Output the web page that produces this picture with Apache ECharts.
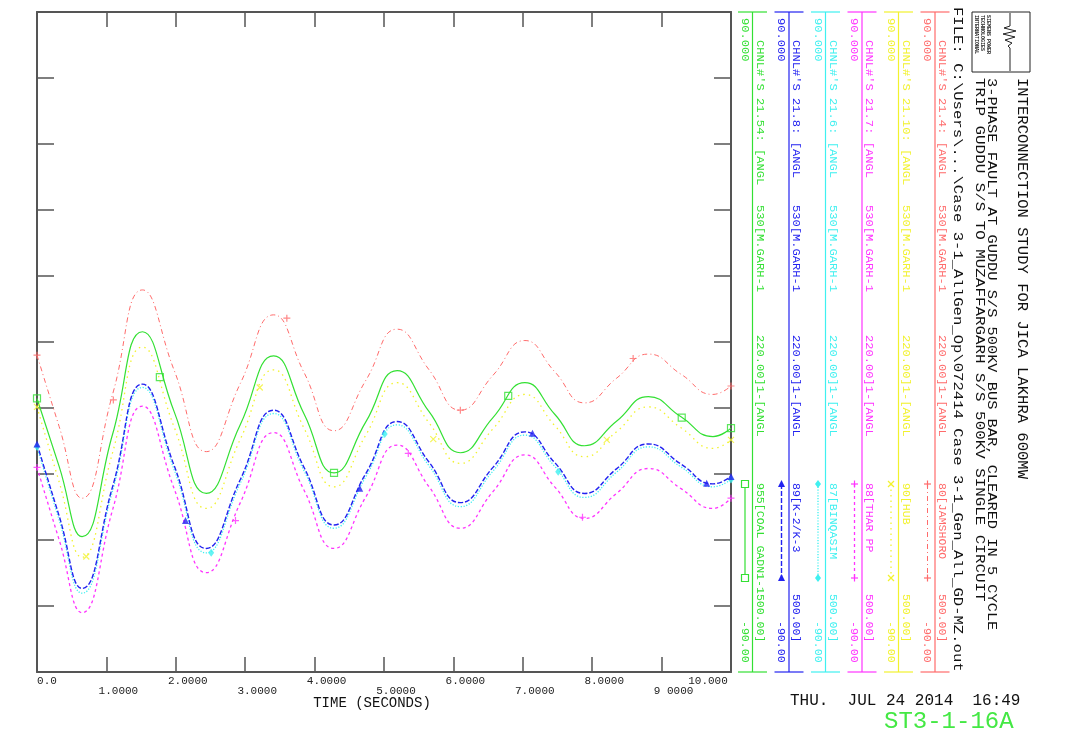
<!DOCTYPE html>
<html>
<head>
<meta charset="utf-8">
<script src="https://cdn.jsdelivr.net/npm/echarts@6/dist/echarts.min.js"></script>
<style>
html,body{margin:0;padding:0;background:#fff;}
#chart{width:1067px;height:751px;}
</style>
</head>
<body>
<div id="chart"></div>
<script>
// ---------------- DATA ----------------
const timeSec = [0, 0.32, 0.65, 1.09, 1.52, 1.98, 2.44, 2.93, 3.41, 3.85, 4.28, 4.74, 5.19, 5.65, 6.10, 6.57, 7.03, 7.46, 7.89, 8.35, 8.81, 9.28, 9.74, 10.0];

const angRed     = [-3.6, -23.1, -42.6, -14.2, 14.2, -7.9, -29.9, -11.3, 7.4, -8.4, -24.2, -10.4, 3.5, -7.6, -18.6, -9.1, 0.4, -8.1, -16.6, -9.9, -3.3, -8.8, -14.3, -12.0];
const angYellow  = [-17.7, -38.2, -58.7, -30.1, -1.4, -23.4, -45.4, -26.5, -7.6, -23.6, -39.5, -25.3, -11.1, -22.1, -33.1, -23.7, -14.3, -22.8, -31.3, -24.5, -17.7, -23.4, -29.0, -26.7];
const angMagenta = [-34.2, -54.0, -73.8, -45.7, -17.5, -40.2, -62.9, -43.8, -24.7, -40.5, -56.3, -42.2, -28.1, -39.5, -50.8, -40.8, -30.8, -39.5, -48.1, -41.3, -34.5, -40.0, -45.4, -42.6];
const angCyan    = [-28.6, -48.6, -68.5, -40.5, -12.4, -35.0, -57.5, -38.5, -19.5, -35.2, -50.8, -36.7, -22.6, -33.8, -44.9, -35.2, -25.4, -33.9, -42.4, -35.5, -28.6, -34.1, -39.5, -37.5];
const angBlue    = [-27.8, -47.5, -67.2, -39.4, -11.5, -33.9, -56.3, -37.5, -18.6, -34.3, -49.9, -35.8, -21.7, -32.8, -43.8, -34.2, -24.5, -32.9, -41.3, -34.6, -27.8, -33.3, -38.7, -36.7];
const angGreen   = [-15.4, -34.0, -53.1, -25.1, 2.8, -19.2, -41.3, -22.5, -3.8, -19.7, -35.7, -21.7, -7.8, -19.0, -30.2, -20.6, -11.1, -19.7, -28.3, -21.6, -14.9, -20.4, -25.8, -23.5];

// marker positions along the curves [time, value]
const markRed     = [[0, -3.6], [1.10, -15.8], [3.60, 6.5], [6.10, -18.6], [8.59, -4.5], [10, -12.0]];
const markYellow  = [[0, -17.7], [0.71, -58.5], [3.21, -12.4], [5.71, -26.5], [8.21, -26.7], [10, -26.7]];
const markMagenta = [[0, -34.2], [2.86, -48.7], [5.35, -30.4], [7.86, -47.8], [10, -42.6]];
const markCyan    = [[0, -28.6], [2.51, -57.5], [5.01, -25.1], [7.51, -35.4], [10, -37.5]];
const markBlue    = [[0, -27.8], [2.14, -48.7], [4.65, -39.9], [7.14, -24.9], [9.65, -38.5], [10, -36.7]];
const markGreen   = [[0, -15.4], [1.77, -9.6], [4.28, -35.7], [6.79, -14.7], [9.29, -20.6], [10, -23.5]];

const xTickLabels = ['0.0', '1.0000', '2.0000', '3.0000', '4.0000', '5.0000', '6.0000', '7.0000', '8.0000', '9 0000', '10.000'];
const yMaxLabel = '90.000';
const yMinLabel = '-90.00';

const chnlIds = ["CHNL#'S 21.4: [ANGL", "CHNL#'S 21.10: [ANGL", "CHNL#'S 21.7: [ANGL", "CHNL#'S 21.6: [ANGL", "CHNL#'S 21.8: [ANGL", "CHNL#'S 21.54: [ANGL"];
const chnlFrom = '530[M.GARH-1';
const chnlMid = '220.00]1-[ANGL';
const chnlTo = ['80[JAMSHORO     500.00]', '90[HUB          500.00]', '88[THAR PP      500.00]', '87[BINQASIM     500.00]', '89[K-2/K-3      500.00]', '955[COAL GADN1-1500.00]'];

const titleMain = 'INTERCONNECTION STUDY FOR JICA LAKHRA 600MW';
const titleSub1 = '3-PHASE FAULT AT GUDDU S/S 500KV BUS BAR, CLEARED IN 5 CYCLE';
const titleSub2 = 'TRIP GUDDU S/S TO MUZAFFARGARH S/S 500KV SINGLE CIRCUIT';
const fileLine = 'FILE: C:\\Users\\...\\Case 3-1_AllGen_Op\\072414 Case 3-1_Gen_All_GD-MZ.out';
const dateLine = 'THU.  JUL 24 2014  16:49';
const plotId = 'ST3-1-16A';
const xAxisTitle = 'TIME (SECONDS)';
const logoLines = ['SIEMENS POWER', 'TECHNOLOGIES', 'INTERNATIONAL'];

// ---------------- STYLES ----------------
const MONO = '"Liberation Mono", "DejaVu Sans Mono", monospace';
const channels = [
  {data: angRed,     marks: markRed,     color: '#ff6b6b', dash: [5, 3, 1, 3], width: 1,   sym: 'plus'},
  {data: angYellow,  marks: markYellow,  color: '#f2f22e', dash: [1.5, 4],     width: 1.3, sym: 'x'},
  {data: angMagenta, marks: markMagenta, color: '#ff33ff', dash: [3, 3],       width: 1.3, sym: 'plus'},
  {data: angCyan,    marks: markCyan,    color: '#3ff0f0', dash: [1.2, 1.6],   width: 1.3, sym: 'diamond'},
  {data: angBlue,    marks: markBlue,    color: '#2222f0', dash: [5, 2],       width: 1.4, sym: 'triangle'},
  {data: angGreen,   marks: markGreen,   color: '#33e033', dash: 'solid',      width: 1.2, sym: 'square'}
];
const colLineX = [935, 898.5, 862, 825.5, 789, 752.5];

const GRID = {left: 37, top: 12, width: 694, height: 660};

function symbolSpec(kind, color) {
  switch (kind) {
    case 'square': return {symbol: 'rect', symbolSize: 7, itemStyle: {color: 'rgba(0,0,0,0)', borderColor: color, borderWidth: 1.2}};
    case 'triangle': return {symbol: 'triangle', symbolSize: 7, itemStyle: {color: color}};
    case 'diamond': return {symbol: 'diamond', symbolSize: [6, 8], itemStyle: {color: color}};
    case 'x': return {symbol: 'path://M0,0L10,10M10,0L0,10', symbolSize: 6, itemStyle: {color: 'none', borderColor: color, borderWidth: 1.2}};
    default: return {symbol: 'path://M5,0L5,10M0,5L10,5', symbolSize: 7, itemStyle: {color: 'none', borderColor: color, borderWidth: 1.2}};
  }
}

// rotated (top-to-bottom) text; stretch = scale along the reading direction
function vtext(x, y, str, color, size, stretch, fontOverride) {
  const font = fontOverride || (size + 'px ' + MONO);
  return {type: 'text', x: x, y: y, rotation: -Math.PI / 2, scaleX: stretch || 1, scaleY: 1, z: 10,
    style: {text: str, fill: color, font: font, textAlign: 'left', textVerticalAlign: 'middle', align: 'left', verticalAlign: 'middle'}};
}
function hline(x1, x2, y, color, w) {
  return {type: 'line', z: 5, shape: {x1: x1, y1: y, x2: x2, y2: y}, style: {stroke: color, lineWidth: w || 1}};
}
function vline(x, y1, y2, color, w, dash) {
  return {type: 'line', z: 5, shape: {x1: x, y1: y1, x2: x, y2: y2}, style: {stroke: color, lineWidth: w || 1, lineDash: dash && dash !== 'solid' ? dash : null}};
}
function legendSymbol(kind, cx, cy, color) {
  if (kind === 'square') return [{type: 'rect', z: 6, shape: {x: cx - 3.5, y: cy - 3.5, width: 7, height: 7}, style: {fill: '#fff', stroke: color, lineWidth: 1.2}}];
  if (kind === 'triangle') return [{type: 'polygon', z: 6, shape: {points: [[cx, cy - 4], [cx - 3.5, cy + 3], [cx + 3.5, cy + 3]]}, style: {fill: color}}];
  if (kind === 'diamond') return [{type: 'polygon', z: 6, shape: {points: [[cx, cy - 4], [cx + 3, cy], [cx, cy + 4], [cx - 3, cy]]}, style: {fill: color}}];
  if (kind === 'x') return [
    {type: 'line', z: 6, shape: {x1: cx - 3, y1: cy - 3, x2: cx + 3, y2: cy + 3}, style: {stroke: color, lineWidth: 1.2}},
    {type: 'line', z: 6, shape: {x1: cx + 3, y1: cy - 3, x2: cx - 3, y2: cy + 3}, style: {stroke: color, lineWidth: 1.2}}];
  return [
    {type: 'line', z: 6, shape: {x1: cx - 3.5, y1: cy, x2: cx + 3.5, y2: cy}, style: {stroke: color, lineWidth: 1.2}},
    {type: 'line', z: 6, shape: {x1: cx, y1: cy - 3.5, x2: cx, y2: cy + 3.5}, style: {stroke: color, lineWidth: 1.2}}];
}

// ---------------- GRAPHIC (right-hand annotation panel) ----------------
const graphics = [];
channels.forEach(function (c, i) {
  const lx = colLineX[i];
  graphics.push(vline(lx, 12, 672, c.color, 1.2));
  graphics.push(hline(lx - 14.5, lx + 14.5, 12, c.color, 1.2));
  graphics.push(hline(lx - 14.5, lx + 14.5, 672, c.color, 1.2));
  graphics.push(vtext(lx - 8, 18, yMaxLabel, c.color, 11, 1.1));
  graphics.push(vtext(lx - 8, 621, yMinLabel, c.color, 11, 1.05));
  graphics.push(vtext(lx + 7, 40, chnlIds[i], c.color, 11, 1.1));
  graphics.push(vtext(lx + 7, 205, chnlFrom, c.color, 11, 1.1));
  graphics.push(vtext(lx + 7, 335, chnlMid, c.color, 11, 1.1));
  graphics.push(vtext(lx + 7, 483, chnlTo[i], c.color, 11, 1.05));
  graphics.push(vline(lx - 7.5, 484, 578, c.color, c.width, c.dash));
  legendSymbol(c.sym, lx - 7.5, 484, c.color).forEach(function (g) { graphics.push(g); });
  legendSymbol(c.sym, lx - 7.5, 578, c.color).forEach(function (g) { graphics.push(g); });
});
// header texts
graphics.push(vtext(957.5, 7, fileLine, '#111', 13, 1.2));
graphics.push(vtext(979.5, 78, titleSub2, '#111', 13, 1.22));
graphics.push(vtext(991.5, 78, titleSub1, '#111', 13, 1.18));
graphics.push(vtext(1022, 78, titleMain, '#111', 14, 1.11));
// logo box
graphics.push({type: 'rect', z: 5, shape: {x: 972, y: 12, width: 58, height: 60}, style: {fill: 'none', stroke: '#222', lineWidth: 1}});
graphics.push({type: 'polyline', z: 6, shape: {points: [[1010, 13], [1010, 26], [1004, 28], [1016, 31], [1003, 34], [1015, 37], [1005, 40], [1012, 43], [1008, 46], [1010, 48], [1010, 71]]}, style: {stroke: '#222', lineWidth: 1, fill: 'none'}});
logoLines.forEach(function (s, k) {
  graphics.push(vtext(988 - k * 6, 15, s, '#222', 5, 1, 'bold 5px ' + MONO));
});
// bottom texts
graphics.push({type: 'text', x: 790, y: 701, z: 10, style: {text: dateLine, fill: '#111', font: '16px ' + MONO, textAlign: 'left', textVerticalAlign: 'middle', align: 'left', verticalAlign: 'middle'}});
graphics.push({type: 'text', x: 884, y: 722, z: 10, style: {text: plotId, fill: '#44e844', font: '24px ' + MONO, textAlign: 'left', textVerticalAlign: 'middle', align: 'left', verticalAlign: 'middle'}});
graphics.push({type: 'text', x: 372, y: 703, z: 10, style: {text: xAxisTitle, fill: '#111', font: '14px ' + MONO, textAlign: 'center', textVerticalAlign: 'middle', align: 'center', verticalAlign: 'middle'}});

// ---------------- SERIES ----------------
const series = [];
channels.forEach(function (c) {
  series.push({
    type: 'line', smooth: 0.5, showSymbol: false, silent: true, z: 2,
    data: timeSec.map(function (t, k) { return [t, c.data[k]]; }),
    lineStyle: {color: c.color, width: c.width, type: c.dash}
  });
});
channels.forEach(function (c) {
  const s = symbolSpec(c.sym, c.color);
  series.push(Object.assign({type: 'scatter', silent: true, z: 3, data: c.marks}, s));
});

const AX = '#555';
const LBL = {fontFamily: MONO, fontSize: 11, color: '#222'};
function frameAxis(extra) {
  return Object.assign({
    type: 'value', splitLine: {show: false}, axisLabel: {show: false},
    axisLine: {show: true, onZero: false, lineStyle: {color: AX, width: 2}},
    axisTick: {show: true, inside: true, length: 15, lineStyle: {color: AX, width: 1.5}}
  }, extra);
}
const option = {
  animation: false,
  backgroundColor: '#fff',
  grid: {left: GRID.left, top: GRID.top, width: GRID.width, height: GRID.height, containLabel: false},
  xAxis: [
    // frame bottom + even tick labels
    frameAxis({min: 0, max: 10, interval: 1, position: 'bottom',
      axisLabel: Object.assign({show: true, margin: 4, showMinLabel: true, showMaxLabel: true, hideOverlap: false,
        formatter: function (v) {
          const i = Math.round(v);
          if (i % 2) return '';
          const s = xTickLabels[i];
          if (i === 0) return '{first|' + s + '}';
          if (i === 10) return '{last|' + s + '}';
          return '{even|' + s + '}';
        },
        rich: {
          first: Object.assign({padding: [0, 0, 0, 20]}, LBL),
          last: Object.assign({padding: [0, 46, 0, 0]}, LBL),
          even: Object.assign({padding: [0, 0, 0, 24]}, LBL)
        }}, LBL)}),
    // frame top
    frameAxis({min: 0, max: 10, interval: 1, position: 'top'}),
    // odd tick labels (second, staggered row)
    {type: 'value', min: 0, max: 10, interval: 1, position: 'bottom', offset: 0,
      axisLine: {show: false, onZero: false}, axisTick: {show: false}, splitLine: {show: false},
      axisLabel: Object.assign({show: true, margin: 14, showMinLabel: true, showMaxLabel: true, hideOverlap: false,
        formatter: function (v) {
          const i = Math.round(v);
          return i % 2 ? '{odd|' + xTickLabels[i] + '}' : '';
        },
        rich: {odd: Object.assign({padding: [0, 0, 0, 24]}, LBL)}}, LBL)}
  ],
  yAxis: [
    frameAxis({min: -90, max: 90, interval: 18, position: 'left',
      axisTick: {show: true, inside: true, length: 17, lineStyle: {color: AX, width: 1.5}}}),
    frameAxis({min: -90, max: 90, interval: 18, position: 'right',
      axisTick: {show: true, inside: true, length: 17, lineStyle: {color: AX, width: 1.5}}})
  ],
  series: series,
  graphic: graphics
};

const chart = echarts.init(document.getElementById('chart'), null, {renderer: 'canvas'});
chart.setOption(option);
</script>
</body>
</html>
